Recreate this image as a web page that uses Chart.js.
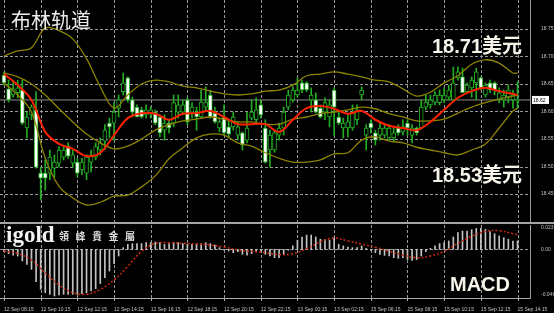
<!DOCTYPE html>
<html>
<head>
<meta charset="utf-8">
<script src="https://cdn.jsdelivr.net/npm/chart.js@4.4.1/dist/chart.umd.min.js"></script>
<style>
  html, body { margin: 0; padding: 0; background: #000; }
  #wrap { position: relative; width: 554px; height: 313px; overflow: hidden; background: #000; }
  #mainCanvas { position: absolute; left: 0; top: 0; }
  #macdCanvas { position: absolute; left: 0; top: 222px; }
  .sep { position: absolute; left: 0; top: 222px; width: 554px; height: 2px; background: #a4a4a4; }
  .note { position: absolute; white-space: nowrap; color: #f6f4e8; }
  .big { font: bold 20px/20px "Liberation Sans", "Noto Sans CJK SC", sans-serif; }
</style>
</head>
<body>
<div id="wrap">
  <canvas id="mainCanvas" width="554" height="222"></canvas>
  <canvas id="macdCanvas" width="554" height="91"></canvas>
  <div class="sep"></div>
  <div class="note" style="left:11px; top:10px; font:20px/20px 'Noto Sans CJK SC', sans-serif; color:#ececec;">布林轨道</div>
  <div class="note big" style="left:432px; top:36px;">18.71美元</div>
  <div class="note big" style="left:432px; top:165px;">18.53美元</div>
  <div class="note big" style="left:450px; top:274px;">MACD</div>
  <div class="note" style="left:6px; top:223px; font:bold 23px/23px 'Liberation Serif', serif; color:#f2f2f2;">igold</div>
  <div class="note" style="left:59px; top:231px; font:bold 10px/10px 'Noto Sans CJK TC', sans-serif; letter-spacing:6.5px; color:#dedede;">領峰貴金屬</div>
</div>
<script>
// 15-минутные свечи, ось времени подписана каждые 8 баров
const timeLabels = ['12 Sep 08:15', '12 Sep 10:15', '12 Sep 12:15', '12 Sep 14:15', '12 Sep 16:15',
  '12 Sep 18:15', '12 Sep 20:15', '12 Sep 22:15', '13 Sep 00:15', '13 Sep 02:15',
  '15 Sep 06:15', '15 Sep 08:15', '15 Sep 10:15', '15 Sep 12:15', '15 Sep 14:15'];
const labelBars = [0, 8, 16, 24, 32, 40, 48, 56, 64, 72, 80, 88, 96, 104, 112];

const opens = [18.666,18.641,18.630,18.634,18.639,18.570,18.594,18.603,18.488,18.488,
  18.488,18.497,18.506,18.517,18.537,18.506,18.508,18.494,18.488,18.508,
  18.517,18.530,18.546,18.579,18.579,18.606,18.636,18.661,18.621,18.608,
  18.603,18.594,18.596,18.599,18.590,18.566,18.579,18.579,18.599,18.599,
  18.621,18.599,18.599,18.590,18.608,18.630,18.597,18.570,18.590,18.572,
  18.572,18.557,18.561,18.548,18.588,18.585,18.612,18.570,18.530,18.530,
  18.557,18.570,18.608,18.621,18.630,18.652,18.652,18.621,18.621,18.606,
  18.599,18.590,18.639,18.590,18.570,18.570,18.570,18.585,18.630,18.557,
  18.579,18.561,18.557,18.557,18.552,18.552,18.570,18.563,18.579,18.557,
  18.570,18.570,18.608,18.612,18.617,18.616,18.621,18.626,18.621,18.661,
  18.663,18.636,18.643,18.652,18.661,18.630,18.652,18.652,18.621,18.621,
  18.626,18.621,18.619];
const highs = [18.672,18.657,18.657,18.657,18.657,18.599,18.612,18.636,18.499,18.512,
  18.530,18.521,18.536,18.539,18.543,18.530,18.515,18.515,18.521,18.530,
  18.543,18.552,18.576,18.588,18.616,18.630,18.670,18.663,18.626,18.612,
  18.608,18.612,18.608,18.603,18.594,18.594,18.585,18.630,18.630,18.621,
  18.625,18.616,18.608,18.639,18.645,18.639,18.608,18.588,18.612,18.585,
  18.599,18.581,18.563,18.599,18.621,18.625,18.621,18.585,18.566,18.566,
  18.579,18.608,18.639,18.645,18.661,18.657,18.654,18.643,18.634,18.612,
  18.625,18.621,18.643,18.599,18.588,18.594,18.612,18.612,18.645,18.576,
  18.585,18.566,18.579,18.576,18.576,18.570,18.576,18.585,18.585,18.576,
  18.572,18.621,18.630,18.630,18.636,18.639,18.643,18.648,18.681,18.681,
  18.679,18.652,18.663,18.679,18.663,18.652,18.657,18.654,18.643,18.639,
  18.648,18.639,18.654];
const lows = [18.648,18.617,18.626,18.625,18.576,18.552,18.585,18.497,18.439,18.457,
  18.476,18.481,18.499,18.512,18.515,18.499,18.481,18.485,18.476,18.490,
  18.512,18.521,18.530,18.552,18.548,18.590,18.630,18.617,18.590,18.590,
  18.588,18.588,18.588,18.576,18.554,18.548,18.561,18.572,18.588,18.594,
  18.576,18.588,18.566,18.588,18.603,18.588,18.579,18.563,18.557,18.554,
  18.566,18.548,18.530,18.543,18.585,18.576,18.588,18.506,18.499,18.526,
  18.548,18.557,18.603,18.617,18.626,18.634,18.636,18.599,18.597,18.588,
  18.585,18.572,18.557,18.576,18.552,18.554,18.566,18.576,18.621,18.530,
  18.561,18.539,18.548,18.552,18.548,18.545,18.557,18.557,18.557,18.543,
  18.557,18.568,18.603,18.606,18.612,18.612,18.616,18.621,18.617,18.657,
  18.634,18.634,18.626,18.621,18.639,18.626,18.634,18.630,18.616,18.608,
  18.616,18.606,18.606];
const closes = [18.652,18.621,18.641,18.643,18.579,18.590,18.608,18.499,18.479,18.479,
  18.517,18.508,18.530,18.530,18.519,18.521,18.488,18.508,18.517,18.521,
  18.536,18.543,18.566,18.572,18.599,18.621,18.652,18.621,18.599,18.590,
  18.590,18.603,18.603,18.579,18.561,18.579,18.570,18.616,18.612,18.612,
  18.581,18.608,18.590,18.617,18.617,18.590,18.581,18.581,18.561,18.559,
  18.590,18.572,18.539,18.570,18.599,18.603,18.594,18.508,18.557,18.561,
  18.570,18.599,18.630,18.639,18.639,18.639,18.639,18.630,18.599,18.590,
  18.616,18.612,18.608,18.579,18.579,18.581,18.599,18.603,18.639,18.570,
  18.570,18.548,18.570,18.570,18.570,18.561,18.561,18.572,18.570,18.570,
  18.561,18.608,18.617,18.621,18.630,18.630,18.630,18.639,18.652,18.672,
  18.634,18.648,18.657,18.672,18.643,18.648,18.639,18.639,18.634,18.630,
  18.639,18.630,18.621];

const bandBars = [0,3,6,9,12,15,18,21,24,27,30,33,36,39,42,45,48,51,54,57,
  60,63,66,69,72,75,78,81,84,87,90,93,96,99,102,105,108,111,112];
const upperBand = [18.701,18.710,18.716,18.752,18.747,18.732,18.696,18.645,18.606,18.630,
  18.650,18.657,18.654,18.646,18.643,18.637,18.632,18.630,18.632,18.637,
  18.639,18.648,18.665,18.668,18.672,18.668,18.663,18.657,18.654,18.641,
  18.628,18.635,18.652,18.665,18.686,18.694,18.688,18.670,18.670];
const middleBand = [18.670,18.663,18.650,18.630,18.605,18.581,18.559,18.543,18.532,18.537,
  18.550,18.566,18.576,18.583,18.586,18.590,18.586,18.581,18.581,18.577,
  18.577,18.586,18.590,18.596,18.599,18.603,18.608,18.605,18.596,18.590,
  18.583,18.583,18.586,18.597,18.608,18.616,18.623,18.628,18.630];
const lowerBand = [18.652,18.630,18.599,18.515,18.464,18.443,18.430,18.435,18.446,18.448,
  18.463,18.483,18.514,18.534,18.552,18.559,18.557,18.543,18.537,18.525,
  18.515,18.508,18.508,18.512,18.523,18.525,18.548,18.554,18.546,18.543,
  18.535,18.530,18.525,18.521,18.530,18.541,18.570,18.601,18.606];
const maLine = [18.668,18.648,18.621,18.563,18.541,18.532,18.519,18.525,18.557,18.588,
  18.597,18.596,18.585,18.596,18.597,18.601,18.590,18.577,18.577,18.577,
  18.563,18.585,18.606,18.610,18.605,18.596,18.601,18.585,18.574,18.570,
  18.566,18.581,18.603,18.625,18.637,18.643,18.637,18.632,18.630];

// MACD: гистограмма по каждому бару, сигнальная линия каждые 3 бара
const macdHist = [-0.0022,-0.0041,-0.0054,-0.0063,-0.0110,-0.0142,-0.0189,-0.0306,-0.0378,-0.0410,
  -0.0425,-0.0441,-0.0432,-0.0425,-0.0425,-0.0425,-0.0425,-0.0419,-0.0410,-0.0394,
  -0.0372,-0.0324,-0.0268,-0.0205,-0.0135,-0.0063,0.0016,0.0047,0.0054,0.0054,
  0.0054,0.0063,0.0063,0.0069,0.0063,0.0047,0.0054,0.0063,0.0063,0.0054,
  0.0047,0.0047,0.0054,0.0054,0.0063,0.0054,0.0041,0.0016,-0.0009,-0.0016,
  -0.0032,-0.0022,-0.0047,-0.0054,-0.0041,-0.0022,-0.0016,-0.0047,-0.0063,-0.0079,
  -0.0079,-0.0047,-0.0009,0.0032,0.0085,0.0117,0.0135,0.0135,0.0117,0.0095,
  0.0095,0.0088,0.0110,0.0047,0.0032,0.0022,0.0016,0.0016,0.0032,0.0009,
  -0.0009,-0.0032,-0.0047,-0.0057,-0.0063,-0.0079,-0.0085,-0.0079,-0.0095,-0.0104,
  -0.0098,-0.0063,-0.0022,0.0009,0.0032,0.0054,0.0063,0.0079,0.0117,0.0158,
  0.0173,0.0173,0.0186,0.0198,0.0198,0.0189,0.0167,0.0148,0.0126,0.0110,
  0.0095,0.0079,0.0079];
const signalLine = [-0.0016,-0.0041,-0.0101,-0.0224,-0.0337,-0.0410,-0.0425,-0.0378,-0.0290,-0.0161,
  -0.0019,0.0057,0.0063,0.0057,0.0050,0.0041,0.0022,-0.0006,-0.0019,-0.0032,
  -0.0050,-0.0041,0.0006,0.0072,0.0107,0.0079,0.0050,0.0019,-0.0019,-0.0054,
  -0.0079,-0.0063,-0.0019,0.0057,0.0123,0.0170,0.0176,0.0148,0.0139];

const priceTicks = [18.45, 18.50, 18.55, 18.60, 18.65, 18.70, 18.75];
const macdTicks = [-0.046, 0, 0.023];

const GREEN = '#22ad22';
const OLIVE = '#8d8300';
const GRID = '#9a9a9a';
const xMin = -0.87, xMax = 114.72;
const lastClose = closes[closes.length - 1];

Chart.defaults.font.family = 'Liberation Sans';
Chart.defaults.font.size = 5;

const idx = opens.map((_, i) => i);
const toPoints = arr => arr.map((v, k) => ({x: bandBars[k], y: v}));
const bandLine = (data, color, width, order) => ({
    type: 'line', data: toPoints(data), borderColor: color, borderWidth: width,
    pointRadius: 0, tension: 0.35, fill: false, order: order
});

// пунктирная сетка по меткам времени и цены, рисуется под данными
const dottedGrid = {
    id: 'dottedGrid',
    beforeDatasetsDraw(chart, args, opts) {
        const {ctx, chartArea: a, scales} = chart;
        ctx.save();
        ctx.strokeStyle = GRID;
        ctx.lineWidth = 1;
        ctx.setLineDash([3, 2]);
        ctx.beginPath();
        labelBars.forEach(v => {
            const x = Math.round(scales.x.getPixelForValue(v)) + 0.5;
            ctx.moveTo(x, a.top);
            ctx.lineTo(x, a.bottom);
        });
        opts.yValues.forEach(v => {
            const y = Math.round(scales.y.getPixelForValue(v)) + 0.5;
            ctx.moveTo(a.left, y);
            ctx.lineTo(a.right, y);
        });
        ctx.stroke();
        if (opts.tickMarks) {
            ctx.setLineDash([]);
            ctx.strokeStyle = '#a8a8a8';
            ctx.beginPath();
            labelBars.forEach(v => {
                const x = Math.round(scales.x.getPixelForValue(v)) + 0.5;
                ctx.moveTo(x, a.bottom);
                ctx.lineTo(x, a.bottom + 3);
            });
            ctx.stroke();
        }
        ctx.restore();
    }
};

// плашка с текущей ценой справа
const priceTag = {
    id: 'priceTag',
    afterDraw(chart) {
        const ctx = chart.ctx;
        const y = chart.scales.y.getPixelForValue(lastClose);
        const x = chart.chartArea.right;
        ctx.save();
        ctx.fillStyle = '#ffffff';
        ctx.fillRect(x + 2, y - 4, 17, 8);
        ctx.fillStyle = '#000000';
        ctx.font = '5px "Liberation Sans"';
        ctx.textBaseline = 'middle';
        ctx.fillText(lastClose.toFixed(2), x + 3, y + 0.5);
        ctx.restore();
    }
};

new Chart(document.getElementById('mainCanvas'), {
    type: 'bar',
    data: {
        datasets: [{
            type: 'line',
            data: [{x: xMin, y: lastClose}, {x: xMax, y: lastClose}],
            borderColor: '#8c8c8c', borderWidth: 1, pointRadius: 0, order: 7
        }, {
            data: idx.map(i => ({x: i, y: [lows[i], highs[i]]})),
            backgroundColor: GREEN, barThickness: 1, grouped: false, order: 6
        }, {
            data: idx.map(i => ({x: i, y: [opens[i], closes[i]]})),
            backgroundColor: c => closes[c.dataIndex] >= opens[c.dataIndex] ? '#000000' : '#ffffff',
            borderColor: GREEN, borderWidth: 1, borderSkipped: false,
            barThickness: 4, minBarLength: 1, grouped: false, order: 5
        },
        bandLine(upperBand, OLIVE, 1.3, 3),
        bandLine(middleBand, OLIVE, 1.3, 3),
        bandLine(lowerBand, OLIVE, 1.3, 3),
        bandLine(maLine, '#ff2200', 2, 2)]
    },
    options: {
        responsive: false,
        animation: false,
        events: [],
        layout: { padding: 0 },
        plugins: {
            legend: { display: false },
            tooltip: { enabled: false },
            dottedGrid: { yValues: priceTicks, tickMarks: false }
        },
        scales: {
            x: {
                type: 'linear', min: xMin, max: xMax, offset: false,
                ticks: { display: false },
                grid: { display: false },
                border: { display: false },
                afterFit: s => { s.height = 0; }
            },
            y: {
                position: 'right', min: 18.3991, max: 18.8027,
                afterBuildTicks: s => { s.ticks = priceTicks.map(v => ({value: v})); },
                ticks: { color: '#c4c4c4', padding: 3, callback: v => v.toFixed(2) },
                grid: { display: false },
                border: { display: true, color: '#9c9c9c' },
                afterFit: s => { s.width = 24; s.paddingTop = 0; s.paddingBottom = 0; }
            }
        }
    },
    plugins: [dottedGrid, priceTag]
});

new Chart(document.getElementById('macdCanvas'), {
    type: 'bar',
    data: {
        datasets: [{
            data: idx.map(i => ({x: i, y: macdHist[i]})),
            backgroundColor: '#c2c2c2', barThickness: 1, grouped: false, order: 2
        }, {
            type: 'line',
            data: toPoints(signalLine),
            borderColor: '#d02a10', borderWidth: 1.5, borderDash: [2, 2],
            pointRadius: 0, tension: 0.4, fill: false, order: 1
        }]
    },
    options: {
        responsive: false,
        animation: false,
        events: [],
        layout: { padding: { top: 3 } },
        plugins: {
            legend: { display: false },
            tooltip: { enabled: false },
            dottedGrid: { yValues: [0], tickMarks: true }
        },
        scales: {
            x: {
                type: 'linear', min: xMin, max: xMax, offset: false,
                afterBuildTicks: s => { s.ticks = labelBars.map(v => ({value: v})); },
                ticks: {
                    align: 'start', maxRotation: 0, autoSkip: false, padding: 1,
                    color: '#c4c4c4',
                    callback: v => timeLabels[labelBars.indexOf(v)]
                },
                grid: { display: false },
                border: { display: true, color: '#a8a8a8' },
                afterFit: s => { s.height = 15; s.paddingLeft = 0; s.paddingRight = 0; }
            },
            y: {
                position: 'right', min: -0.046, max: 0.023,
                afterBuildTicks: s => { s.ticks = macdTicks.map(v => ({value: v})); },
                ticks: {
                    color: '#c4c4c4', padding: 3,
                    callback: v => {
                        const t = v === 0 ? '0.00' : v.toFixed(3);
                        if (v === 0.023) return ['', t];   // подпись внутрь панели
                        if (v === -0.046) return [t, ''];
                        return t;
                    }
                },
                grid: { display: false },
                border: { display: true, color: '#9c9c9c' },
                afterFit: s => { s.width = 24; s.paddingTop = 0; s.paddingBottom = 0; }
            }
        }
    },
    plugins: [dottedGrid]
});
</script>
</body>
</html>
